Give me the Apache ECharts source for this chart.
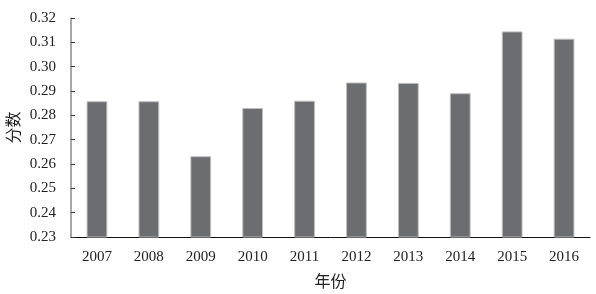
<!DOCTYPE html>
<html><head><meta charset="utf-8">
<script src="https://cdn.jsdelivr.net/npm/echarts@6/dist/echarts.min.js"></script>
<style>html,body{margin:0;padding:0;background:#fff}#c{width:596px;height:294px}</style>
</head><body><div id="c"></div>
<script>
const categories = ['2007','2008','2009','2010','2011','2012','2013','2014','2015','2016'];
const values = [0.2858, 0.2858, 0.2632, 0.2830, 0.2860, 0.2935, 0.2933, 0.2891, 0.3145, 0.3115];
const yTicks = {min: 0.23, max: 0.32, interval: 0.01};
const xName = '年份';
const yName = '分数';
const font = '"Liberation Serif", "Noto Sans CJK SC", serif';
const chart = echarts.init(document.getElementById('c'));
chart.setOption({
  animation: false,
  grid: {left: 71, right: 6, top: 18, bottom: 57, containLabel: false, outerBoundsMode: 'none'},
  xAxis: {
    type: 'category', data: categories,
    name: xName, nameLocation: 'middle', nameGap: 38,
    nameTextStyle: {fontFamily: font, fontSize: 16, color: '#222'},
    axisLine: {lineStyle: {color: '#111', width: 1}},
    axisTick: {inside: true, length: 5, lineStyle: {color: '#333'}},
    axisLabel: {fontFamily: font, fontSize: 15, color: '#222', margin: 13}
  },
  yAxis: {
    type: 'value', min: yTicks.min, max: yTicks.max, interval: yTicks.interval,
    name: yName, nameLocation: 'middle', nameGap: 48, nameRotate: 90,
    nameMoveOverlap: false,
    nameTextStyle: {fontFamily: font, fontSize: 16, color: '#222'},
    axisLine: {show: true, lineStyle: {color: '#8a8a8a', width: 1.5}},
    axisTick: {show: true, inside: true, length: 4, lineStyle: {color: '#333'}},
    splitLine: {show: false},
    axisLabel: {fontFamily: font, fontSize: 15, color: '#222', margin: 15,
      formatter: v => v.toFixed(2)}
  },
  series: [{
    type: 'bar', data: values, barWidth: '40%',
    itemStyle: {color: '#6c6d71', borderColor: '#bdbdbd', borderWidth: 1}
  }]
});
</script></body></html>
